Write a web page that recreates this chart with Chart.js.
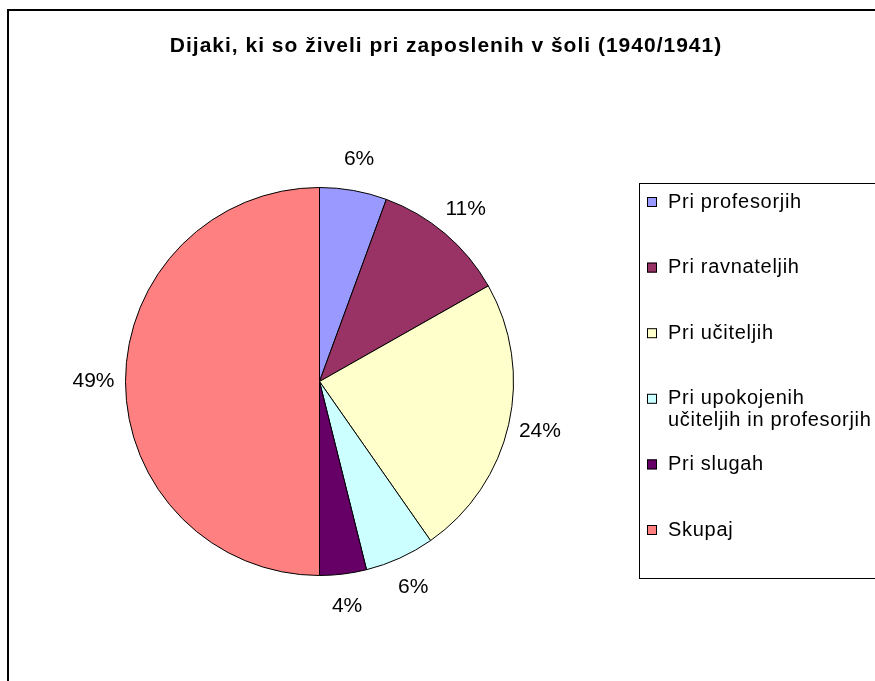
<!DOCTYPE html>
<html>
<head>
<meta charset="utf-8">
<script src="https://cdn.jsdelivr.net/npm/chart.js@4/dist/chart.umd.min.js"></script>
<style>
  html, body { margin: 0; padding: 0; background: #fff; }
  #wrap { position: relative; width: 875px; height: 681px; }
</style>
</head>
<body>
<div id="wrap"><canvas id="pie" width="875" height="681"></canvas></div>
<script>
// ── Data ──
const chartTitle = 'Dijaki, ki so živeli pri zaposlenih v šoli (1940/1941)';
const categories = [
  'Pri profesorjih',
  'Pri ravnateljih',
  'Pri učiteljih',
  ['Pri upokojenih', 'učiteljih in profesorjih'],
  'Pri slugah',
  'Skupaj'
];
// slice sizes (share of the whole, %)
const shares = [5.6, 11.2, 23.5, 5.8, 3.9, 50.0];
// percent labels as printed on the chart
const percentLabels = ['6%', '11%', '24%', '6%', '4%', '49%'];
const sliceColors = ['#9999FF', '#993366', '#FFFFCC', '#CCFFFF', '#660066', '#FF8080'];

const FONT = "'Liberation Sans', Arial, sans-serif";

// frame, title, legend, percent labels
const decor = {
  id: 'decor',
  beforeDraw(chart) {
    const ctx = chart.ctx;
    ctx.save();
    ctx.fillStyle = '#fff';
    ctx.fillRect(0, 0, chart.width, chart.height);
    ctx.strokeStyle = '#000';
    ctx.lineWidth = 2;
    ctx.strokeRect(8, 10, 900, 700);
    ctx.restore();
  },
  afterDraw(chart) {
    const ctx = chart.ctx;
    ctx.save();
    // title
    ctx.fillStyle = '#000';
    ctx.font = 'bold 21px ' + FONT;
    ctx.letterSpacing = '1px';
    ctx.textAlign = 'center';
    ctx.textBaseline = 'middle';
    ctx.fillText(chartTitle, 446, 46);

    // percent labels around the pie
    const meta = chart.getDatasetMeta(0);
    ctx.font = '21px ' + FONT;
    ctx.letterSpacing = '0px';
    meta.data.forEach((arc, i) => {
      const mid = (arc.startAngle + arc.endAngle) / 2;
      const r = arc.outerRadius + 32;
      const x = arc.x + Math.cos(mid) * r;
      const y = arc.y + Math.sin(mid) * r;
      ctx.fillText(percentLabels[i], x, y);
    });

    // legend box
    ctx.strokeStyle = '#000';
    ctx.lineWidth = 1;
    ctx.strokeRect(639.5, 183.5, 300, 395);
    ctx.textAlign = 'left';
    ctx.font = '20px ' + FONT;
    ctx.letterSpacing = '0.7px';
    categories.forEach((lab, i) => {
      const y = 202 + i * 65.6;
      ctx.fillStyle = sliceColors[i];
      ctx.fillRect(647, y - 5, 10, 10);
      ctx.strokeStyle = '#000';
      ctx.strokeRect(647.5, y - 4.5, 9, 9);
      ctx.fillStyle = '#000';
      const lines = Array.isArray(lab) ? lab : [lab];
      lines.forEach((t, j) => ctx.fillText(t, 668, y + j * 22));
    });
    ctx.restore();
  }
};

new Chart(document.getElementById('pie'), {
  type: 'pie',
  data: {
    labels: categories.map(c => Array.isArray(c) ? c.join(' ') : c),
    datasets: [{
      data: shares,
      backgroundColor: sliceColors,
      borderColor: '#000',
      borderWidth: 1
    }]
  },
  options: {
    responsive: false,
    animation: false,
    layout: { padding: { left: 125, top: 187, right: 361, bottom: 105 } },
    plugins: {
      legend: { display: false },
      title: { display: false },
      tooltip: { enabled: false }
    }
  },
  plugins: [decor]
});
</script>
</body>
</html>
